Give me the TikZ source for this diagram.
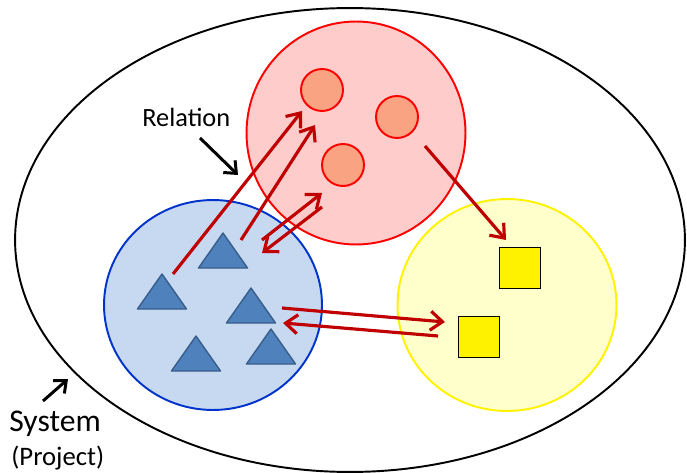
\documentclass[tikz,border=0pt]{standalone}
\usepackage{fontspec}
\setmainfont{Carlito}
\usetikzlibrary{shapes.geometric,arrows.meta}
\definecolor{linkred}{HTML}{C00000}
\definecolor{relfill}{HTML}{FFCCCC}
\definecolor{dotfill}{HTML}{F9A382}
\definecolor{blockfill}{HTML}{C6D9F1}
\definecolor{blockline}{HTML}{0033CC}
\definecolor{trifill}{HTML}{4F81BD}
\definecolor{triline}{HTML}{385D8A}
\definecolor{itemfill}{HTML}{FFFFCC}
\begin{document}
\begin{tikzpicture}
[x=0.02cm,y=-0.02cm,
  setdecorate/.style={shape=ellipse,inner sep=0pt,line width=1.1pt},%
  dotdecorate/.style={shape=circle,minimum size=0.84cm,inner sep=0pt,draw=red,fill=dotfill,line width=1.1pt},%
  boxdecorate/.style={shape=rectangle,minimum size=0.82cm,inner sep=0pt,draw=black,fill=yellow,line width=1pt},%
  tridecorate/.style={draw=triline,fill=trifill,line width=0.8pt,line join=round},%
  linkdecorate/.style={-{Straight Barb[length=2.4mm,width=3.8mm]},line width=1.8pt,color=linkred},%
  notedecorate/.style={-{Straight Barb[length=2mm,width=3.4mm]},line width=1.7pt}]
\useasboundingbox (0,0) rectangle (687,473);
%%% system
\node (sys) at (350,240) [setdecorate,draw=black,minimum width=13.4cm,minimum height=9.28cm] {};
%
%%% sets
\node (rel) at (356,133) [setdecorate,draw=red,fill=relfill,minimum width=4.38cm,minimum height=4.46cm] {};
\node (blk) at (213,305) [setdecorate,draw=blockline,fill=blockfill,minimum width=4.36cm,minimum height=4.2cm] {};
\node (itm) at (507,305) [setdecorate,draw=yellow,fill=itemfill,minimum width=4.38cm,minimum height=4.24cm] {};
%
%%% elements
% circles
\node (r1) at (322,90) [dotdecorate] {};
\node (r2) at (397,117) [dotdecorate] {};
\node (r3) at (343,165) [dotdecorate] {};
% squares
\node (s1) at (520,268) [boxdecorate] {};
\node (s2) at (479,337) [boxdecorate] {};
% triangles
\foreach \n/\x/\y in {t1/162/274,t2/223/233,t3/251/288,t4/196/336,t5/271/329}
  \draw[tridecorate] (\x,\y) coordinate (\n) -- ++(24.5,35) -- ++(-49,0) -- cycle;
%
%%% relations
% end points
\coordinate (a1) at (173,274);
\coordinate (b1) at (302,111);
\coordinate (a2) at (241,240);
\coordinate (b2) at (315,125);
\coordinate (a3) at (262,240);
\coordinate (b3) at (322,193);
\coordinate (a4) at (322,207);
\coordinate (b4) at (262,253);
\coordinate (a5) at (425,146);
\coordinate (b5) at (506,240);
\coordinate (a6) at (282,308);
\coordinate (b6) at (445,322);
\coordinate (a7) at (438,336);
\coordinate (b7) at (283,323);
% arrows
\path
(a1) edge[linkdecorate] (b1)
(a2) edge[linkdecorate] (b2)
(a3) edge[linkdecorate] (b3)
(a4) edge[linkdecorate] (b4)
(a5) edge[linkdecorate] (b5)
(a6) edge[linkdecorate] (b6)
(a7) edge[linkdecorate] (b7);
%
%%% labels
\node (lrel) at (142,127) [anchor=base west,inner sep=0pt,font=\fontsize{15}{18}\selectfont] {Relation};
\node (lsys) at (9,431) [anchor=base west,inner sep=0pt,font=\fontsize{18}{21}\selectfont] {System};
\node (lprj) at (11,465) [anchor=base west,inner sep=0pt,font=\fontsize{15.2}{18}\selectfont] {(Project)};
\coordinate (prel) at (200,138);
\coordinate (qrel) at (238,175);
\coordinate (psys) at (43,401);
\coordinate (qsys) at (68,379);
\path
(prel) edge[notedecorate] (qrel)
(psys) edge[notedecorate] (qsys);
\end{tikzpicture}
\end{document}
